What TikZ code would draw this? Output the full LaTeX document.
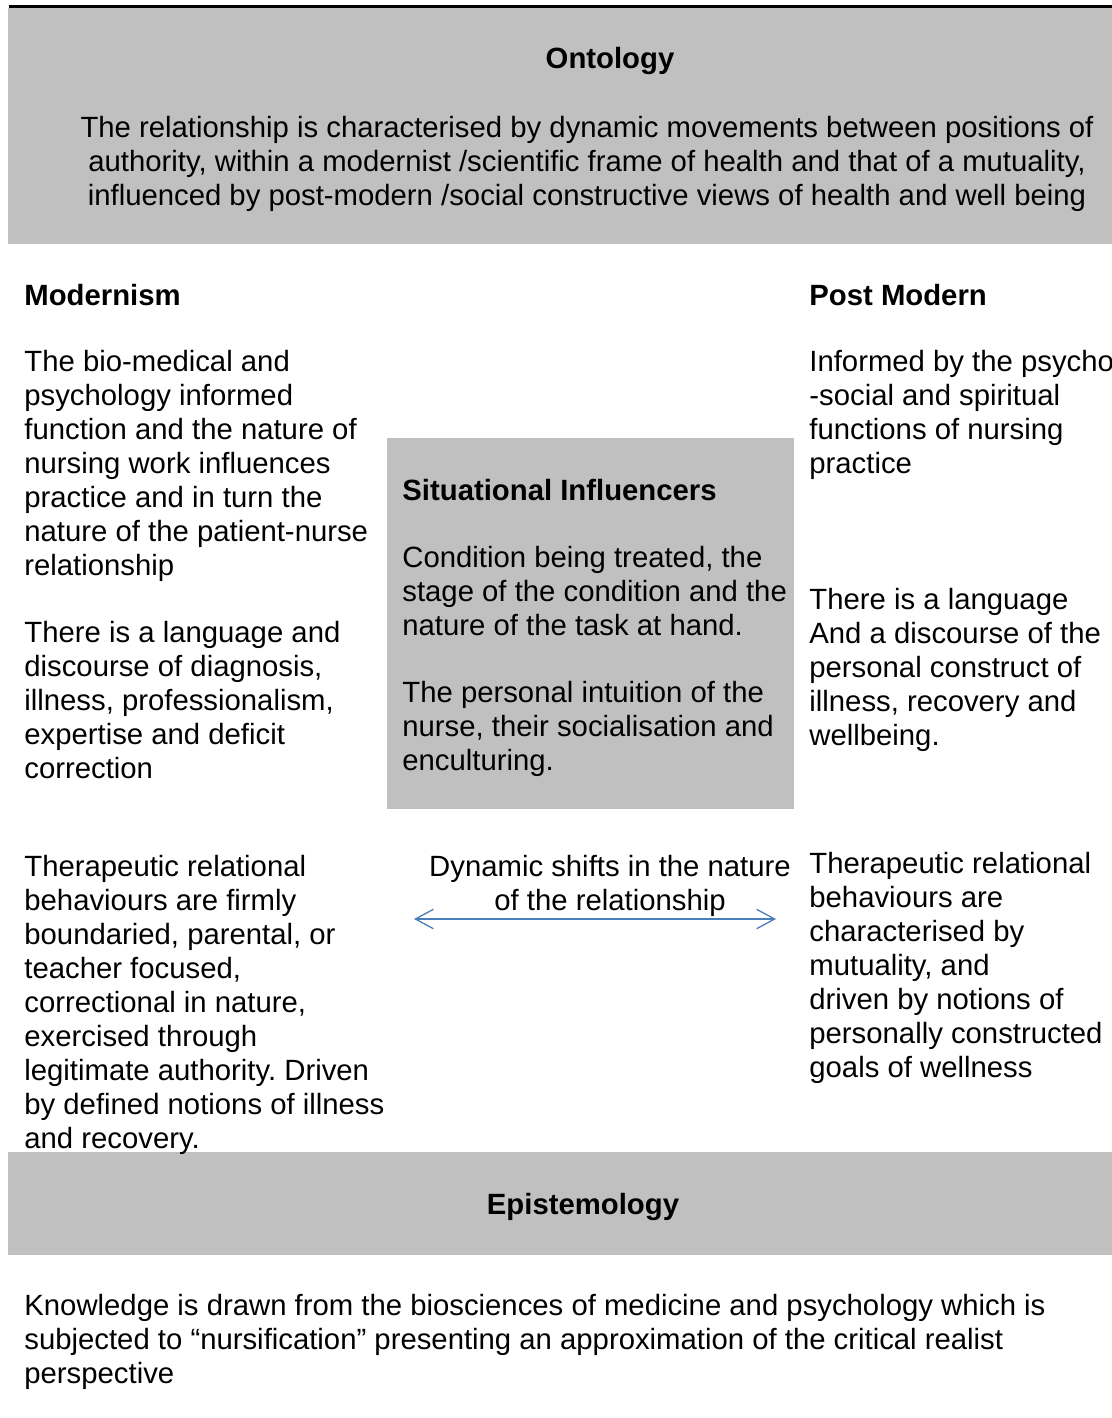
\documentclass[tikz,border=0pt]{standalone}
\usepackage{fontspec}
\setmainfont{Liberation Sans}
\usetikzlibrary{arrows.meta}
\definecolor{panelgrey}{HTML}{C0C0C0}
\definecolor{shiftblue}{HTML}{4A7EBB}
\frenchspacing
\begin{document}
\begin{tikzpicture}[
  x=0.5pt, y=-0.5pt,
  txt/.style={anchor=north west, align=left, inner sep=0pt,
    font=\fontsize{14.65}{17}\selectfont},
  head/.style={txt, font=\fontsize{14.65}{17}\selectfont\bfseries},
  ctxt/.style={txt, anchor=north, align=center},
  panel/.style={fill=panelgrey, draw=none}
]
\useasboundingbox (0,0) rectangle (1112,1418);
% grey panels
\fill[panel] (8,7.7) rectangle (1112,244);
\draw[line width=1.5pt] (9,6.3) -- (1112,6.3);
\fill[panel] (387,438) rectangle (794,809);
\fill[panel] (8,1152) rectangle (1112,1255);
% ontology
\node[head, anchor=north] (onto) at (610,47) {Ontology};
\node[ctxt] (ontotxt) at (587,116)
  {The relationship is characterised by dynamic movements between positions of\\
   authority, within a modernist /scientific frame of health and that of a mutuality,\\
   influenced by post-modern /social constructive views of health and well being};
% modernism column
\node[head] (mod) at (24,284) {Modernism};
\node[txt] (modfunc) at (24,350)
  {The bio-medical and\\ psychology informed\\ function and the nature of\\
   nursing work influences\\ practice and in turn the\\
   nature of the patient-nurse\\ relationship};
\node[txt] (modlang) at (24,621)
  {There is a language and\\ discourse of diagnosis,\\ illness, professionalism,\\
   expertise and deficit\\ correction};
\node[txt] (modbeh) at (24,855)
  {Therapeutic relational\\ behaviours are firmly\\ boundaried, parental, or\\
   teacher focused,\\ correctional in nature,\\ exercised through\\
   legitimate authority. Driven\\ by defined notions of illness\\ and recovery.};
% situational influencers
\node[head] (sit) at (402,479) {Situational Influencers};
\node[txt] (sitcond) at (402,546)
  {Condition being treated, the\\ stage of the condition and the\\ nature of the task at hand.};
\node[txt] (sitpers) at (402,681)
  {The personal intuition of the\\ nurse, their socialisation and\\ enculturing.};
% post modern column
\node[head] (pm) at (809,284) {Post Modern};
\node[txt] (pmfunc) at (809,350)
  {Informed by the psycho\\ -social and spiritual\\ functions of nursing\\ practice};
\node[txt] (pmlang) at (809,588)
  {There is a language\\ And a discourse of the\\ personal construct of\\
   illness, recovery and\\ wellbeing.};
\node[txt] (pmbeh) at (809,852)
  {Therapeutic relational\\ behaviours are\\ characterised by\\ mutuality, and\\
   driven by notions of\\ personally constructed\\ goals of wellness};
% the shift between the two
\node[ctxt] (dyn) at (610,855)
  {Dynamic shifts in the nature\\ of the relationship};
\coordinate (shiftL) at (414,919);
\coordinate (shiftR) at (776,919);
\draw[shiftblue, line width=0.65pt,
  {Straight Barb[length=9pt,width=9.7pt]}-{Straight Barb[length=9pt,width=9.7pt]}]
  (shiftL) -- (shiftR);
% epistemology
\node[head, anchor=north] (epi) at (583,1193) {Epistemology};
\node[txt] (know) at (24,1294)
  {Knowledge is drawn from the biosciences of medicine and psychology which is\\
   subjected to “nursification” presenting an approximation of the critical realist\\
   perspective};
\end{tikzpicture}
\end{document}
